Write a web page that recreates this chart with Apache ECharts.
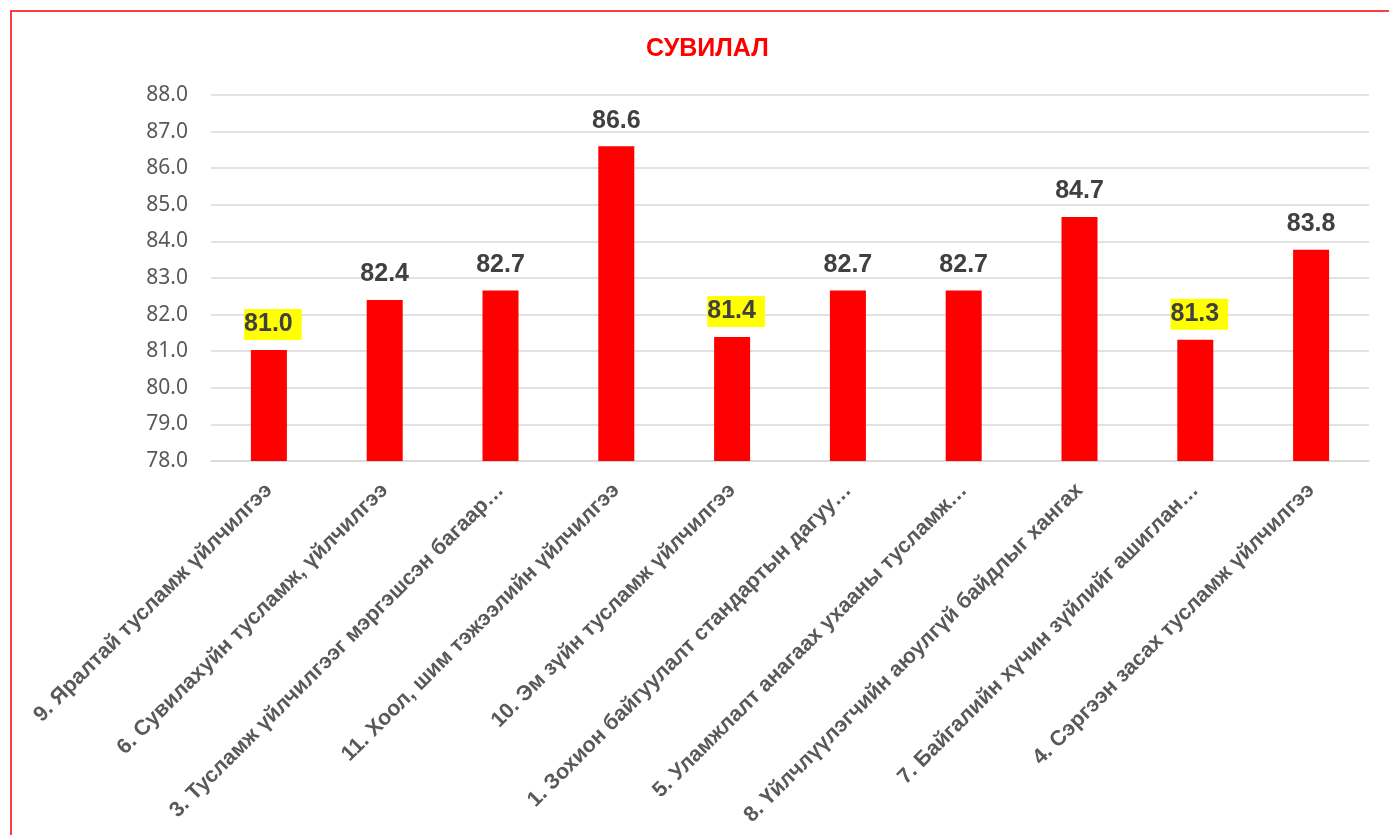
<!DOCTYPE html>
<html>
<head>
<meta charset="utf-8">
<script src="https://cdn.jsdelivr.net/npm/echarts@6/dist/echarts.min.js"></script>
<style>
  html, body { margin: 0; padding: 0; background: #fff; }
  #main { width: 1389px; height: 835px; }
</style>
</head>
<body>
<div id="main"></div>
<script>
// categories as they appear (long ones truncated like in the source chart)
var categories = [
  '9. Яралтай тусламж үйлчилгээ',
  '6. Сувилахуйн тусламж, үйлчилгээ',
  '3. Тусламж үйлчилгээг мэргэшсэн багаар…',
  '11. Хоол, шим тэжээлийн үйлчилгээ',
  '10. Эм зүйн тусламж үйлчилгээ',
  '1. Зохион байгуулалт стандартын дагуу…',
  '5. Уламжлалт анагаах ухааны тусламж…',
  '8. Үйлчлүүлэгчийн аюулгүй байдлыг хангах',
  '7. Байгалийн хүчин зүйлийг ашиглан…',
  '4. Сэргээн засах тусламж үйлчилгээ'
];
var scores = [81.03, 82.40, 82.66, 86.60, 81.39, 82.66, 82.66, 84.67, 81.31, 83.77];
// the three lowest scores get a yellow marker on their label
var markedCategories = [
  '9. Яралтай тусламж үйлчилгээ',
  '10. Эм зүйн тусламж үйлчилгээ',
  '7. Байгалийн хүчин зүйлийг ашиглан…'
];
var yMin = 78, yMax = 88, yStep = 1;

var chart = echarts.init(document.getElementById('main'));

var barData = scores.map(function (v, i) {
  var item = { value: v };
  if (markedCategories.indexOf(categories[i]) >= 0) {
    item.label = {
      backgroundColor: '#ffff00',
      padding: [3, 9, 3, 0],
      offset: [4, 0],
      distance: 10
    };
  }
  return item;
});

chart.setOption({
  animation: false,
  backgroundColor: '#ffffff',
  title: {
    text: 'СУВИЛАЛ',
    left: 641,
    top: 32,
    textStyle: {
      color: '#ff0000',
      fontFamily: 'Liberation Sans',
      fontWeight: 'bold',
      fontSize: 25
    }
  },
  grid: { left: 211, right: 20, top: 95, bottom: 374 },
  xAxis: {
    type: 'category',
    data: categories,
    axisTick: { show: false },
    axisLine: { lineStyle: { color: '#d9d9d9', width: 1.5 } },
    axisLabel: {
      rotate: 45,
      interval: 0,
      margin: 26,
      color: '#595959',
      fontFamily: 'Liberation Sans',
      fontWeight: 'bold',
      fontSize: 21.5
    }
  },
  yAxis: {
    type: 'value',
    min: yMin,
    max: yMax,
    interval: yStep,
    axisLine: { show: false },
    axisTick: { show: false },
    splitLine: { lineStyle: { color: '#d9d9d9', width: 1.5 } },
    axisLabel: {
      margin: 23,
      color: '#595959',
      fontFamily: 'Noto Sans',
      fontSize: 21,
      formatter: function (v) { return v.toFixed(1); }
    }
  },
  series: [{
    type: 'bar',
    data: barData,
    barWidth: 36,
    itemStyle: { color: '#ff0000' },
    label: {
      show: true,
      position: 'top',
      distance: 13,
      color: '#404040',
      fontFamily: 'Liberation Sans',
      fontWeight: 'bold',
      fontSize: 25,
      formatter: function (p) { return p.value.toFixed(1); }
    }
  }],
  graphic: [{
    type: 'rect',
    silent: true,
    shape: { x: 11, y: 11, width: 1600, height: 1000 },
    style: { fill: 'none', stroke: '#ff0000', lineWidth: 1.5 }
  }]
});
</script>
</body>
</html>
